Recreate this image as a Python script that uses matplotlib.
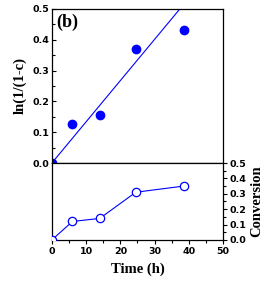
import matplotlib
matplotlib.use("Agg")
import matplotlib.pyplot as plt
import numpy as np
from matplotlib.ticker import MultipleLocator

time_h = [0, 6, 14, 24.5, 38.5]
ln_vals = [0.0, 0.125, 0.155, 0.37, 0.43]
conversion = [0.0, 0.12, 0.14, 0.31, 0.35]
fit_slope = 0.01337
fit_x = [0, 50]

blue = "#0000ff"
tick_font = dict(family="DejaVu Sans", weight="bold", size=6.8)
label_font = dict(family="Liberation Serif", weight="bold", size=10.5)

fig = plt.figure(figsize=(2.73, 2.87), dpi=100)
ax1 = fig.add_axes([0.190, 0.432, 0.627, 0.537])
ax2 = fig.add_axes([0.190, 0.164, 0.627, 0.268])

# Top panel
ax1.plot(fit_x, [fit_slope * x for x in fit_x], color=blue, lw=0.8)
ax1.plot(time_h, ln_vals, 'o', color=blue, ms=6, clip_on=True)
ax1.set_xlim(0, 50)
ax1.set_ylim(0, 0.5)
ax1.yaxis.set_minor_locator(MultipleLocator(0.05))
ax1.tick_params(axis='y', which='both', direction='in', left=True, right=False,
                pad=2)
ax1.tick_params(axis='y', which='major', length=3, width=0.8)
ax1.tick_params(axis='y', which='minor', length=2, width=0.8)
ax1.tick_params(axis='x', which='both', bottom=False, top=False, labelbottom=False)
ax1.set_yticks(np.arange(0, 0.51, 0.1))
ax1.set_yticklabels([f"{v:.1f}" for v in np.arange(0, 0.51, 0.1)], **tick_font)
ax1.set_ylabel("ln(1/(1-c)", **label_font, labelpad=4)
ax1.text(0.025, 0.97, "(b)", transform=ax1.transAxes, ha='left', va='top',
         family="Liberation Serif", weight="bold", size=13)
for s in ax1.spines.values():
    s.set_linewidth(0.9)

# Bottom panel
ax2.plot(time_h, conversion, '-o', color=blue, lw=0.8, ms=6,
         markerfacecolor='white', markeredgecolor=blue, markeredgewidth=0.9,
         clip_on=True, zorder=3)
ax2.set_xlim(0, 50)
ax2.set_ylim(0, 0.5)
ax2.yaxis.set_label_position('right')
ax2.yaxis.tick_right()
ax2.yaxis.set_minor_locator(MultipleLocator(0.05))
ax2.xaxis.set_minor_locator(MultipleLocator(5))
ax2.tick_params(axis='y', which='both', direction='out', right=True, left=False, pad=1.5)
ax2.tick_params(axis='y', which='major', length=3, width=0.8)
ax2.tick_params(axis='y', which='minor', length=2, width=0.8)
ax2.tick_params(axis='x', which='both', direction='out', pad=2)
ax2.tick_params(axis='x', which='major', length=3, width=0.8)
ax2.tick_params(axis='x', which='minor', length=2, width=0.8)
ax2.set_yticks(np.arange(0, 0.51, 0.1))
ax2.set_yticklabels([f"{v:.1f}" for v in np.arange(0, 0.51, 0.1)], **tick_font)
ax2.set_xticks(np.arange(0, 51, 10))
ax2.set_xticklabels([str(v) for v in range(0, 51, 10)], **tick_font)
ax2.set_ylabel("Conversion", **label_font, labelpad=3)
ax2.set_xlabel("Time (h)", **label_font, labelpad=5)
for s in ax2.spines.values():
    s.set_linewidth(0.9)

fig.savefig("out.png", dpi=100)
